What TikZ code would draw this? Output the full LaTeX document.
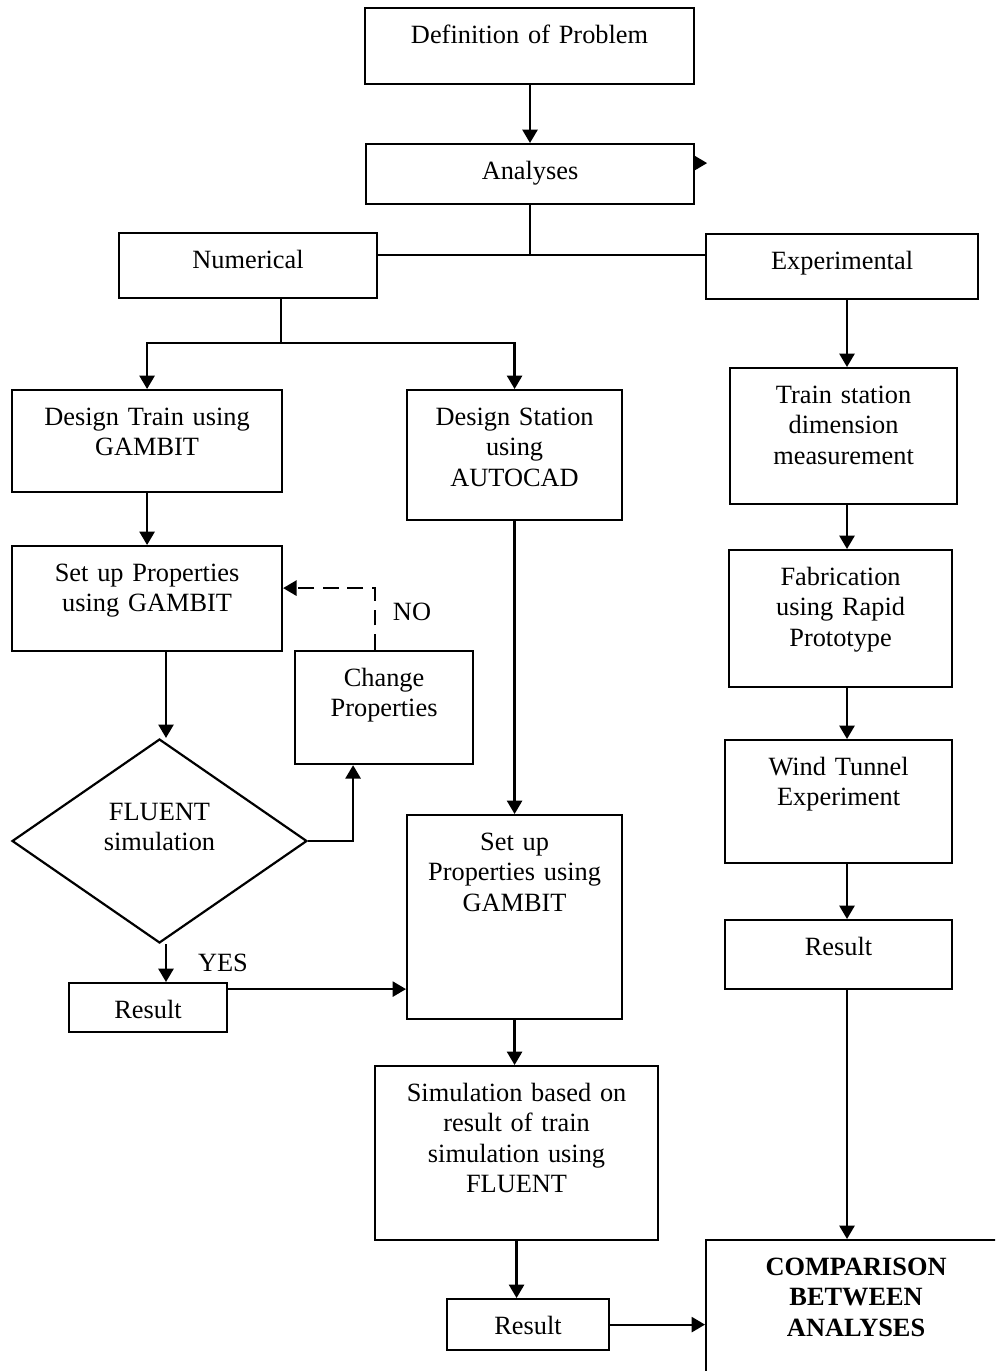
\documentclass[tikz,border=0pt]{standalone}
\usepackage{fontspec}
\setmainfont{Liberation Serif}
\usetikzlibrary{arrows.meta,shapes.geometric}

\begin{document}
\begin{tikzpicture}[
    x=0.02cm, y=-0.02cm,
    box/.style={draw, line width=1.25pt, anchor=north west, align=center, inner sep=0pt,
        font=\fontsize{15pt}{17.4pt}\selectfont, text height=0.7cm},
    decision/.style={diamond, draw, line width=1.25pt, align=center, inner sep=0pt,
        font=\fontsize{15pt}{17.4pt}\selectfont, shape aspect=1.45,
        minimum width=5.9cm, minimum height=4.08cm,
        text width=2.4cm, text height=0.7cm, text depth=1.54cm},
    txt/.style={font=\fontsize{15pt}{17.4pt}\selectfont, inner sep=0pt},
    line/.style={line width=1.25pt},
    arrow/.style={-{Triangle[length=7.6pt,width=8.6pt]}, line width=1.25pt},
    dasharrow/.style={arrow, dash pattern=on 9pt off 5pt}]

\useasboundingbox (0,0) rectangle (995,1371);
\clip (0,0) rectangle (995,1371);

% Top
\node[box, text width=6.58cm, text depth=0.82cm] (def) at (364,7) {Definition of Problem};
\node[box, text width=6.56cm, text depth=0.50cm] (ana) at (365,143) {Analyses};
\node[box, text width=5.16cm, text depth=0.60cm] (num) at (118,232) {Numerical};
\node[box, text width=5.44cm, text depth=0.60cm] (exp) at (705,233) {Experimental};

% Numerical branch
\node[box, text width=5.40cm, text depth=1.34cm] (dtrain) at (11,389) {Design Train using\\GAMBIT};
\node[box, text width=4.30cm, text depth=1.90cm] (dstat) at (406,389) {Design Station\\using\\AUTOCAD};
\node[box, text width=5.40cm, text depth=1.40cm] (sup1) at (11,545) {Set up Properties\\using GAMBIT};
\node[box, text width=3.56cm, text depth=1.56cm] (chg) at (294,650) {Change\\Properties};
\node[decision] (fluent) at (159.5,841) {FLUENT\\simulation};
\node[box, text width=3.16cm, text depth=0.28cm] (resL) at (68,982) {Result};
\node[box, text width=4.30cm, text depth=3.38cm] (sup2) at (406,814) {Set up\\Properties using\\GAMBIT};
\node[box, text width=5.66cm, text depth=2.78cm] (sim) at (374,1065) {Simulation based on\\result of train\\simulation using\\FLUENT};
\node[box, text width=3.24cm, text depth=0.32cm] (resB) at (446,1298) {Result};

% Experimental branch
\node[box, text width=4.54cm, text depth=2.02cm] (tsd) at (729,367) {Train station\\dimension\\measurement};
\node[box, text width=4.46cm, text depth=2.04cm] (fab) at (728,549) {Fabrication\\using Rapid\\Prototype};
\node[box, text width=4.54cm, text depth=1.76cm] (wind) at (724,739) {Wind Tunnel\\Experiment};
\node[box, text width=4.54cm, text depth=0.68cm] (resR) at (724,919) {Result};

% Comparison
\node[box, text width=6.00cm, text depth=3.30cm, font=\fontsize{15pt}{17.4pt}\selectfont\bfseries] (comp) at (705,1239) {COMPARISON\\BETWEEN\\ANALYSES};

% Labels
\node[txt] (no) at (412,612) {NO};
\node[txt] (yes) at (223,963) {YES};

% Junctions
\coordinate (br) at (530,255);
\coordinate (nbr) at (281,343);
\coordinate (lcol) at (166,0);
\coordinate (rcol) at (847,0);

% Arrows
\draw[arrow] (def.south -| br) -- (ana.north -| br);
\draw[arrow] ([yshift=0.22cm]ana.east) -- ++(12,0);
\draw[line] (ana.south -| br) -- (br);
\draw[line] (br -| num.east) -- (br -| exp.west);
\draw[line] (num.south -| nbr) -- (nbr);
\draw[arrow] (nbr) -| (dtrain);
\draw[arrow] (nbr) -| (dstat);
\draw[arrow] (dtrain) -- (sup1);
\draw[arrow] (sup1.south -| lcol) -- (fluent.north -| lcol);
\draw[arrow] (fluent.east) -| ([xshift=-0.62cm]chg.south);
\draw[dasharrow] ([xshift=-0.18cm]chg.north) |- ([yshift=0.21cm]sup1.east);
\draw[arrow] (fluent.south -| lcol) -- (resL.north -| lcol);
\draw[arrow] ([yshift=0.37cm]resL.east) -- ([yshift=0.37cm]resL.east -| sup2.west);
\draw[arrow] (dstat) -- (sup2);
\draw[arrow] (sup2.south) -- (sup2.south |- sim.north);
\draw[arrow] (sim.south) -- (sim.south |- resB.north);
\draw[arrow] (resB.east) -- (resB.east -| comp.west);
\draw[arrow] (exp.south -| rcol) -- (tsd.north -| rcol);
\draw[arrow] (tsd.south -| rcol) -- (fab.north -| rcol);
\draw[arrow] (fab.south -| rcol) -- (wind.north -| rcol);
\draw[arrow] (wind.south -| rcol) -- (resR.north -| rcol);
\draw[arrow] (resR.south -| rcol) -- (comp.north -| rcol);

\end{tikzpicture}
\end{document}
